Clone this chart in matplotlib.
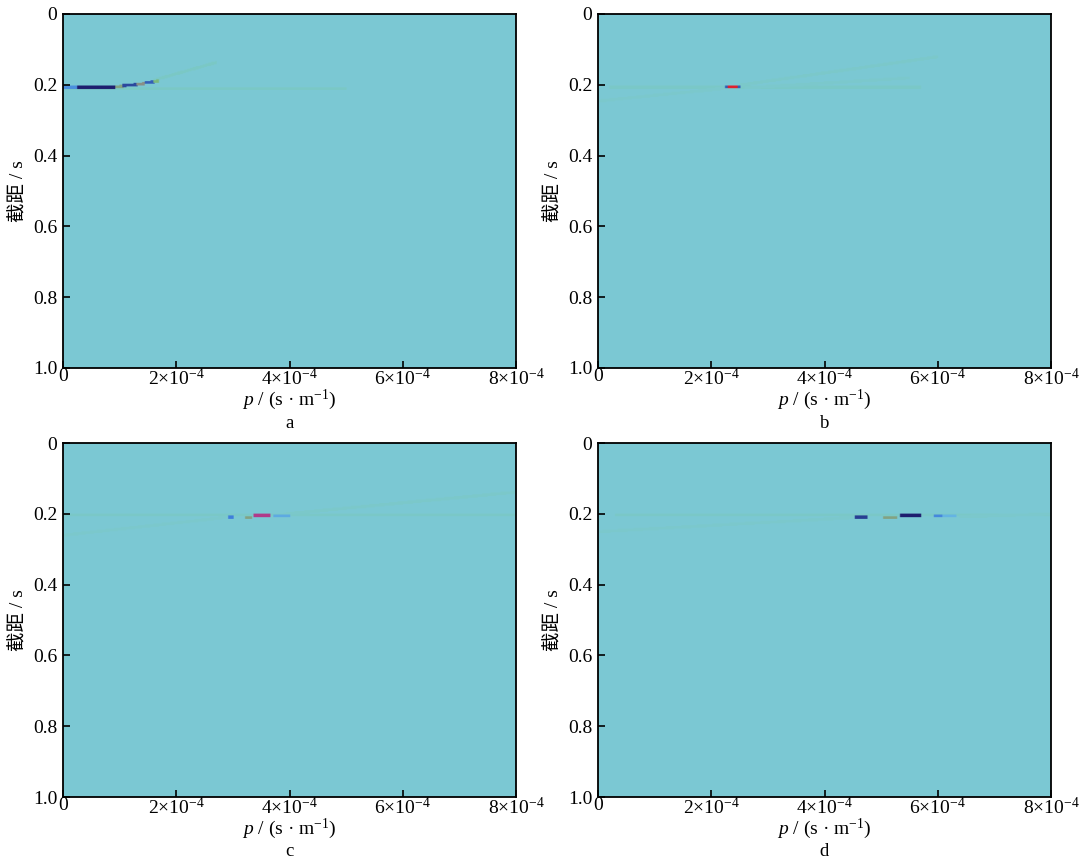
import numpy as np
import matplotlib
matplotlib.use("Agg")
import matplotlib.pyplot as plt
from matplotlib.colors import LinearSegmentedColormap

plt.rcParams['font.family'] = ['Liberation Serif', 'Noto Sans CJK SC', 'DejaVu Sans']
plt.rcParams['mathtext.fontset'] = 'custom'
plt.rcParams['mathtext.rm'] = 'Liberation Serif'
plt.rcParams['mathtext.it'] = 'Liberation Serif:italic'
plt.rcParams['font.size'] = 14

# --- data ---------------------------------------------------------------
# events: (p start, p end [x1e-4], tau start, tau end [s], amplitude)
events_a = [
    (0.00, 5.00, 0.210, 0.210, 0.05),
    (1.60, 2.70, 0.186, 0.136, 0.05),
    (0.00, 0.25, 0.207, 0.207, -0.45),
    (0.25, 0.92, 0.207, 0.207, -1.00),
    (0.92, 1.05, 0.205, 0.204, 0.40),
    (1.05, 1.30, 0.201, 0.199, -0.80),
    (1.30, 1.45, 0.198, 0.196, 0.45),
    (1.45, 1.60, 0.193, 0.191, -0.70),
    (1.60, 1.70, 0.190, 0.188, 0.35),
]
events_b = [
    (0.20, 5.70, 0.206, 0.206, 0.04),
    (0.00, 2.20, 0.245, 0.210, 0.03),
    (2.50, 6.00, 0.200, 0.120, 0.035),
    (2.60, 5.50, 0.208, 0.180, 0.03),
    (2.25, 2.52, 0.205, 0.205, -0.70),
    (2.30, 2.46, 0.205, 0.205, 1.00),
]
events_c = [
    (0.00, 8.00, 0.203, 0.203, 0.04),
    (0.00, 2.90, 0.260, 0.209, 0.03),
    (3.90, 8.00, 0.200, 0.138, 0.035),
    (2.91, 3.00, 0.209, 0.209, -0.55),
    (3.21, 3.34, 0.210, 0.210, 0.40),
    (3.36, 3.67, 0.204, 0.204, 0.70),
    (3.71, 4.01, 0.205, 0.205, -0.30),
]
events_d = [
    (0.30, 8.00, 0.203, 0.203, 0.04),
    (0.00, 4.50, 0.250, 0.210, 0.03),
    (6.40, 8.00, 0.208, 0.200, 0.03),
    (4.55, 4.76, 0.209, 0.209, -0.85),
    (5.04, 5.29, 0.210, 0.210, 0.40),
    (5.35, 5.70, 0.204, 0.204, -1.00),
    (5.93, 6.10, 0.205, 0.205, -0.50),
    (6.10, 6.35, 0.205, 0.205, -0.25),
]
panel_events = [events_a, events_b, events_c, events_d]
panel_names = ['a', 'b', 'c', 'd']

p_ticks = [0, 2e-4, 4e-4, 6e-4, 8e-4]
p_labels = ['0', r'$2{\times}10^{-4}$', r'$4{\times}10^{-4}$', r'$6{\times}10^{-4}$', r'$8{\times}10^{-4}$']
tau_ticks = [0, 0.2, 0.4, 0.6, 0.8, 1.0]
tau_labels = ['0', '0.2', '0.4', '0.6', '0.8', '1.0']

# --- grid ---------------------------------------------------------------
P = np.linspace(0, 8, 321)        # x1e-4 s/m
TAU = np.linspace(0, 1, 401)      # s
HALF = 0.0045


def render(events):
    img = np.zeros((len(TAU), len(P)))
    for p0, p1, t0, t1, amp in events:
        cols = (P >= p0) & (P <= p1)
        line = t0 + (t1 - t0) * (P - p0) / (p1 - p0)
        mask = cols[None, :] & (np.abs(TAU[:, None] - line[None, :]) <= HALF)
        img[mask] = amp
    return img


cmap = LinearSegmentedColormap.from_list('taup', [
    (0.0, '#1e1e6e'),
    (0.225, '#3f7fdc'),
    (0.375, '#64b4e4'),
    (0.5, '#7cc8d5'),
    (0.65, '#74cc78'),
    (0.825, '#a8409a'),
    (1.0, '#e0202e'),
])

fig = plt.figure(figsize=(10.8, 8.59), dpi=100)
W, H = 1080, 859
boxes = [(63, 14), (598, 14), (63, 443), (598, 443)]
aw, ah = 453, 354

for (x0, y0), ev, name in zip(boxes, panel_events, panel_names):
    ax = fig.add_axes([x0 / W, 1 - (y0 + ah) / H, aw / W, ah / H])
    ax.imshow(render(ev), extent=(0, 8e-4, 1.0, 0.0), aspect='auto', cmap=cmap,
              vmin=-1, vmax=1, interpolation='bilinear')
    ax.set_xlim(0, 8e-4)
    ax.set_ylim(1.0, 0.0)
    ax.set_xticks(p_ticks)
    ax.set_xticklabels(p_labels)
    ax.set_yticks(tau_ticks)
    ax.set_yticklabels(tau_labels)
    ax.tick_params(direction='in', length=5, width=1.2, labelsize=14)
    ax.tick_params(axis='x', pad=0)
    ax.tick_params(axis='y', pad=4)
    for s in ax.spines.values():
        s.set_linewidth(1.3)
    ax.set_xlabel(r'$p$ / (s · m$^{\mathregular{-1}}$)', fontsize=14, labelpad=-1)
    ax.set_ylabel('截距 / s', fontsize=14, labelpad=4)
    fig.text((x0 + aw / 2) / W, 1 - (y0 + ah + 55) / H, name, ha='center', va='center', fontsize=13.5)

fig.savefig('out.png', dpi=100)
